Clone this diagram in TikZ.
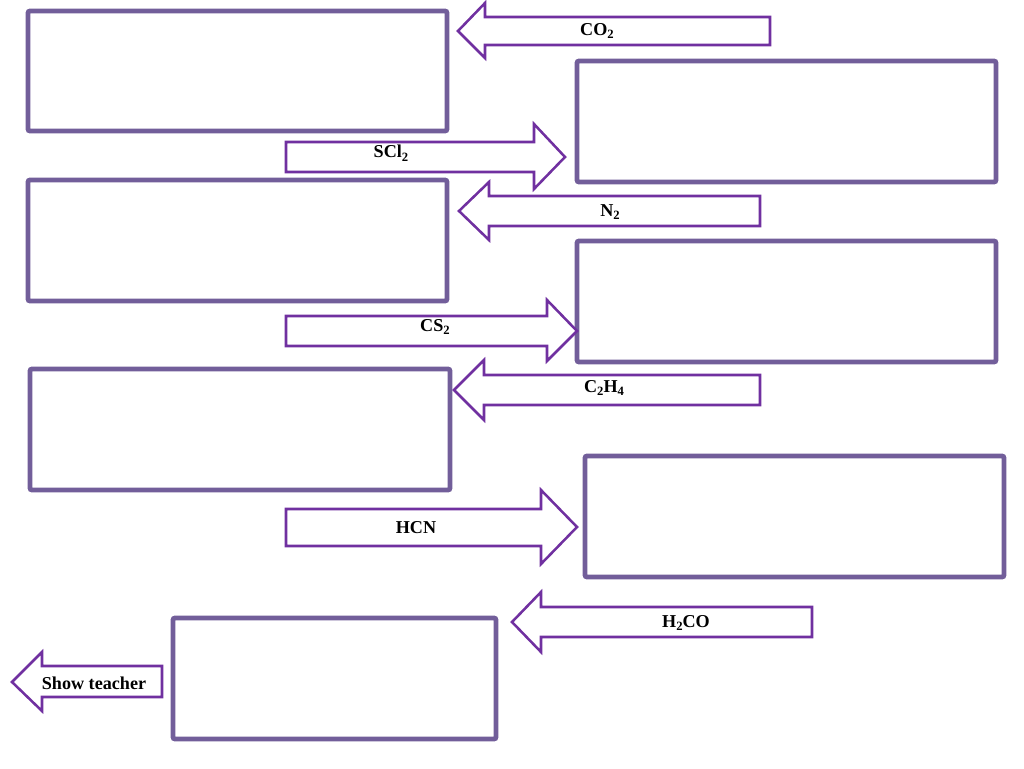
\documentclass[tikz,border=0pt]{standalone}
\usepackage{fontspec}
\setmainfont{Liberation Serif}
\definecolor{boxc}{HTML}{725E9A}
\definecolor{arrc}{HTML}{7030A0}
\newcommand\chemsub[1]{\raisebox{-0.45ex}{\fontsize{9.5}{10}\selectfont #1}}
\tikzset{
  answerbox/.style={draw=boxc, line width=3.6pt, rounded corners=1.5pt},
  blockarrow/.style={draw=arrc, line width=1.9pt, fill=white, line join=miter},
  lbl/.style={font=\bfseries\fontsize{13.6}{15}\selectfont, inner sep=0pt, text=black}
}
\begin{document}
\begin{tikzpicture}[x=0.75pt,y=-0.75pt]
\useasboundingbox (0,0) rectangle (1024,768);
% answer boxes
\draw[answerbox] (28,11) rectangle (447,131);
\draw[answerbox] (577,61) rectangle (996,182);
\draw[answerbox] (28,180) rectangle (447,301);
\draw[answerbox] (577,241) rectangle (996,362);
\draw[answerbox] (30,369) rectangle (450,490);
\draw[answerbox] (585,456) rectangle (1004,577);
\draw[answerbox] (173,618) rectangle (496,739);
% CO2 (left)
\draw[blockarrow] (458,31) -- (485,3) -- (485,17) -- (770,17) -- (770,45) -- (485,45) -- (485,58) -- cycle;
\node[lbl] (co2) at (597,31) {CO\chemsub{2}};
% SCl2 (right)
\draw[blockarrow] (565,157) -- (534,124) -- (534,142) -- (286,142) -- (286,172) -- (534,172) -- (534,189) -- cycle;
\node[lbl] (scl2) at (391,153) {SCl\chemsub{2}};
% N2 (left)
\draw[blockarrow] (459,211) -- (489,182) -- (489,196) -- (760,196) -- (760,226) -- (489,226) -- (489,240) -- cycle;
\node[lbl] (n2) at (610,212) {N\chemsub{2}};
% CS2 (right)
\draw[blockarrow] (577,331) -- (547,300) -- (547,316) -- (286,316) -- (286,346) -- (547,346) -- (547,361) -- cycle;
\node[lbl] (cs2) at (435,327) {CS\chemsub{2}};
% C2H4 (left)
\draw[blockarrow] (454,390) -- (484,360) -- (484,375) -- (760,375) -- (760,405) -- (484,405) -- (484,420) -- cycle;
\node[lbl] (c2h4) at (604,388) {C\chemsub{2}H\chemsub{4}};
% HCN (right)
\draw[blockarrow] (577,527) -- (541,490) -- (541,509) -- (286,509) -- (286,546) -- (541,546) -- (541,564) -- cycle;
\node[lbl] (hcn) at (416,528) {HCN};
% H2CO (left)
\draw[blockarrow] (512,622) -- (541,592) -- (541,607) -- (812,607) -- (812,637) -- (541,637) -- (541,652) -- cycle;
\node[lbl] (h2co) at (686,623) {H\chemsub{2}CO};
% Show teacher (left)
\draw[blockarrow] (12,682) -- (42,652) -- (42,666) -- (162,666) -- (162,697) -- (42,697) -- (42,711) -- cycle;
\node[lbl] (show) at (94,683) {Show teacher};
\end{tikzpicture}
\end{document}
